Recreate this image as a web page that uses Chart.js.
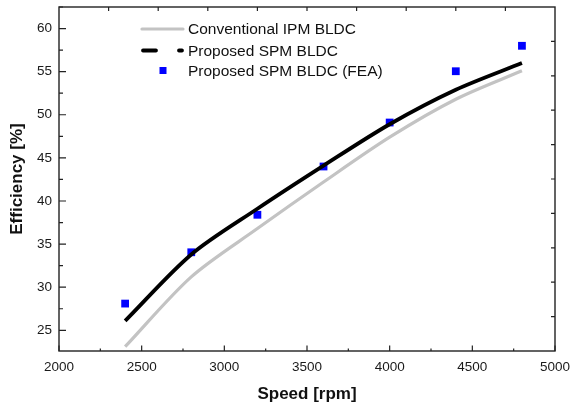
<!DOCTYPE html>
<html>
<head>
<meta charset="utf-8">
<script src="https://cdn.jsdelivr.net/npm/chart.js@4.4.1/dist/chart.umd.min.js"></script>
<style>
  html, body { margin: 0; padding: 0; background: #fff; }
  #wrap { width: 573px; height: 405px; }
</style>
</head>
<body>
<div id="wrap"><canvas id="c" width="573" height="405"></canvas></div>
<script>
// ---- data ----
const speeds = [2400, 2800, 3200, 3600, 4000, 4400, 4800];
const ipmEff = [23.1, 31.2, 36.8, 42.2, 47.4, 51.8, 55.1];
const spmEff = [26.1, 33.8, 39.1, 44.1, 48.9, 52.9, 56.0];
const feaSpeeds = [2400, 2800, 3200, 3600, 4000, 4400, 4800];
const feaEff = [28.1, 34.05, 38.4, 44.0, 49.1, 55.05, 58.0];
const xTicks = [2000, 2500, 3000, 3500, 4000, 4500, 5000];
const yTicks = [25, 30, 35, 40, 45, 50, 55, 60];
const seriesNames = ['Conventional IPM BLDC', 'Proposed SPM BLDC', 'Proposed SPM BLDC (FEA)'];

const toXY = (xs, ys) => xs.map((x, i) => ({ x: x, y: ys[i] }));

const FONT = "'Liberation Sans', Arial, sans-serif";

const framePlugin = {
  id: 'frame',
  afterDatasetsDraw(chart) {
    const { ctx, chartArea: a, scales } = chart;
    const xs = scales.x, ys = scales.y;
    ctx.save();
    ctx.strokeStyle = '#222';
    ctx.lineWidth = 1.4;
    ctx.strokeRect(a.left, a.top, a.right - a.left, a.bottom - a.top);
    ctx.lineWidth = 1.2;
    ctx.beginPath();
    for (let v = 2000; v <= 5000; v += 250) {
      const px = xs.getPixelForValue(v);
      const len = (v % 500 === 0) ? 5.5 : 2.5;
      ctx.moveTo(px, a.bottom); ctx.lineTo(px, a.bottom - len);
    }
    for (let v = 25; v <= 62.5; v += 2.5) {
      const py = ys.getPixelForValue(v);
      const len = (v % 5 === 0) ? 7 : 4;
      ctx.moveTo(a.left, py); ctx.lineTo(a.left + len, py);
    }
    for (let k = 1; k < 10; k++) {
      const px = a.left + (a.right - a.left) * k / 10;
      ctx.moveTo(px, a.top); ctx.lineTo(px, a.top + 4);
      const py = a.top + (a.bottom - a.top) * k / 10;
      ctx.moveTo(a.right, py); ctx.lineTo(a.right - 4, py);
    }
    ctx.stroke();

    // legend
    const ds = chart.data.datasets;
    const rows = [29, 50.5, 70.5];
    const x0 = 142, x1 = 183, tx = 188;
    ctx.font = '15.5px ' + FONT;
    ctx.fillStyle = '#111';
    ctx.textBaseline = 'middle';
    ctx.textAlign = 'left';
    ctx.strokeStyle = ds[0].borderColor; ctx.lineWidth = 3.2; ctx.lineCap = 'round';
    ctx.beginPath(); ctx.moveTo(x0, rows[0]); ctx.lineTo(x1, rows[0]); ctx.stroke();
    ctx.strokeStyle = ds[1].borderColor; ctx.lineWidth = 3.8;
    ctx.beginPath(); ctx.moveTo(x0 + 1, rows[1]); ctx.lineTo(x0 + 14, rows[1]);
    ctx.moveTo(x1 - 4, rows[1]); ctx.lineTo(x1 - 1, rows[1]); ctx.stroke();
    ctx.fillStyle = ds[2].backgroundColor;
    ctx.fillRect(163 - 3.5, rows[2] - 3.5, 7, 7);
    ctx.fillStyle = '#111';
    for (let i = 0; i < 3; i++) ctx.fillText(ds[i].label, tx, rows[i] + 1);
    ctx.restore();
  }
};

new Chart(document.getElementById('c'), {
  type: 'line',
  data: {
    datasets: [
      {
        label: seriesNames[0],
        data: toXY(speeds, ipmEff),
        borderColor: '#c3c3c3',
        borderWidth: 3.2,
        pointRadius: 0,
        tension: 0.3,
        fill: false
      },
      {
        label: seriesNames[1],
        data: toXY(speeds, spmEff),
        borderColor: '#000000',
        borderWidth: 3.8,
        pointRadius: 0,
        tension: 0.3,
        fill: false
      },
      {
        label: seriesNames[2],
        data: toXY(feaSpeeds, feaEff),
        showLine: false,
        pointStyle: 'rect',
        pointRadius: 5.5,
        backgroundColor: '#0000ff',
        borderColor: '#0000ff',
        borderWidth: 0
      }
    ]
  },
  options: {
    responsive: false,
    animation: false,
    events: [],
    layout: { padding: { top: 7, right: 18, left: 0, bottom: 0 } },
    plugins: { legend: { display: false }, tooltip: { enabled: false } },
    scales: {
      x: {
        type: 'linear',
        min: 2000, max: 5000,
        afterBuildTicks: s => { s.ticks = xTicks.map(v => ({ value: v })); },
        afterFit: s => { s.height = 54; s.paddingLeft = 0; s.paddingRight = 0; },
        grid: { display: false, drawTicks: false },
        border: { display: false },
        ticks: { padding: 8, color: '#1a1a1a', font: { family: FONT, size: 13.5 }, maxRotation: 0, autoSkip: false, callback: v => String(v) },
        title: { display: true, text: 'Speed [rpm]', color: '#111', font: { family: FONT, size: 17, weight: 'bold' }, padding: { top: 8, bottom: 0 } }
      },
      y: {
        type: 'linear',
        min: 22.6, max: 62.5,
        afterBuildTicks: s => { s.ticks = yTicks.map(v => ({ value: v })); },
        afterFit: s => { s.width = 59; s.paddingTop = 0; s.paddingBottom = 0; },
        grid: { display: false, drawTicks: false },
        border: { display: false },
        ticks: { padding: 7, color: '#1a1a1a', font: { family: FONT, size: 13.5 }, autoSkip: false, callback: v => String(v) },
        title: { display: true, text: 'Efficiency [%]', color: '#111', font: { family: FONT, size: 17, weight: 'bold' }, padding: { top: 7, bottom: 0 } }
      }
    }
  },
  plugins: [framePlugin]
});
</script>
</body>
</html>
